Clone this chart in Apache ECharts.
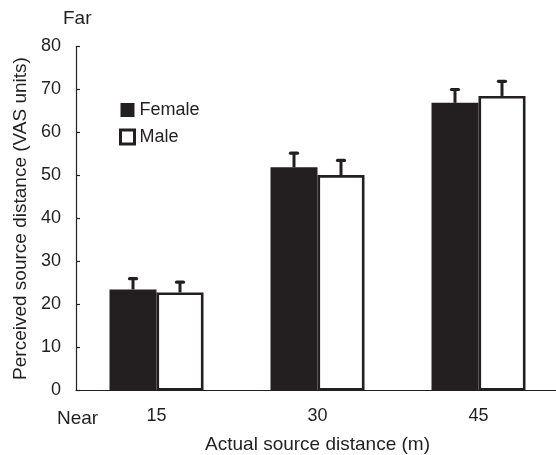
<!DOCTYPE html>
<html>
<head>
<meta charset="utf-8">
<script src="https://cdn.jsdelivr.net/npm/echarts@6/dist/echarts.min.js"></script>
<style>html,body{margin:0;padding:0;background:#fff}#c{width:556px;height:455px}</style>
</head>
<body>
<div id="c"></div>
<script>
var categories = ['15', '30', '45'];
var femaleValues = [23.5, 51.9, 66.9];
var femaleErrors = [2.5, 3.3, 3.1];
var maleValues = [22.8, 50.1, 68.5];
var maleErrors = [2.4, 3.4, 3.4];
var yTicks = [0, 10, 20, 30, 40, 50, 60, 70, 80];

var INK = '#231f20';
var FONT = '"Liberation Sans", Arial, sans-serif';
var BAR_W = 47;

function errSeries(name, values, errors, offset) {
  return {
    type: 'custom',
    name: name + ' err',
    z: 5,
    data: values.map(function (v, i) { return [i, v, v + errors[i]]; }),
    renderItem: function (params, api) {
      var base = api.coord([api.value(0), api.value(1)]);
      var top = api.coord([api.value(0), api.value(2)]);
      var x = base[0] + offset;
      return {
        type: 'group',
        children: [
          { type: 'line', shape: { x1: x, y1: base[1], x2: x, y2: top[1] },
            style: { stroke: INK, lineWidth: 3 } },
          { type: 'line', shape: { x1: x - 3.5, y1: top[1], x2: x + 3.5, y2: top[1] },
            style: { stroke: INK, lineWidth: 3.2, lineCap: 'round' } }
        ]
      };
    }
  };
}

var chart = echarts.init(document.getElementById('c'), null, { renderer: 'canvas' });
chart.setOption({
  animation: false,
  backgroundColor: '#fff',
  textStyle: { fontFamily: FONT, color: INK },
  grid: { left: 76, right: -3, top: 46.5, bottom: 64.5, containLabel: false, outerBoundsMode: 'none' },
  legend: {
    orient: 'vertical',
    left: 119, top: 101,
    padding: 0,
    itemWidth: 14, itemHeight: 14, itemGap: 9,
    icon: 'rect',
    data: [
      { name: 'Female', itemStyle: { color: INK } },
      { name: 'Male', itemStyle: { color: '#fff', borderColor: INK, borderWidth: 3 } }
    ],
    textStyle: { fontFamily: FONT, fontSize: 18, color: INK, padding: [0, 0, 0, 0] }
  },
  xAxis: {
    type: 'category',
    data: categories,
    name: 'Actual source distance (m)',
    nameLocation: 'middle',
    nameGap: 45,
    nameTextStyle: { fontFamily: FONT, fontSize: 19, color: INK },
    axisLine: { lineStyle: { color: INK, width: 1.2 } },
    axisTick: { show: false },
    axisLabel: { fontFamily: FONT, fontSize: 18, color: INK, margin: 17 }
  },
  yAxis: {
    type: 'value',
    min: yTicks[0], max: yTicks[yTicks.length - 1], interval: 10,
    name: 'Perceived source distance (VAS units)',
    nameLocation: 'middle',
    nameGap: 44,
    nameTextStyle: { fontFamily: FONT, fontSize: 19, color: INK },
    splitLine: { show: false },
    axisLine: { show: true, lineStyle: { color: INK, width: 1.2 } },
    axisTick: { show: true, inside: true, length: 4, lineStyle: { color: INK, width: 1.2 } },
    axisLabel: { fontFamily: FONT, fontSize: 18, color: INK, margin: 15 }
  },
  series: [
    { type: 'bar', name: 'Female', data: femaleValues, barWidth: BAR_W, barGap: '0%',
      itemStyle: { color: INK } },
    { type: 'bar', name: 'Male', data: maleValues, barWidth: BAR_W, barGap: '0%',
      itemStyle: { color: '#fff', borderColor: INK, borderWidth: 2.6 } },
    errSeries('Female', femaleValues, femaleErrors, -BAR_W / 2),
    errSeries('Male', maleValues, maleErrors, BAR_W / 2)
  ],
  graphic: [
    { type: 'text', x: 63, y: 19, style: { text: 'Far', font: '19px ' + FONT, fill: INK, verticalAlign: 'middle' } },
    { type: 'text', x: 57, y: 419, style: { text: 'Near', font: '19px ' + FONT, fill: INK, verticalAlign: 'middle' } }
  ]
});
</script>
</body>
</html>
